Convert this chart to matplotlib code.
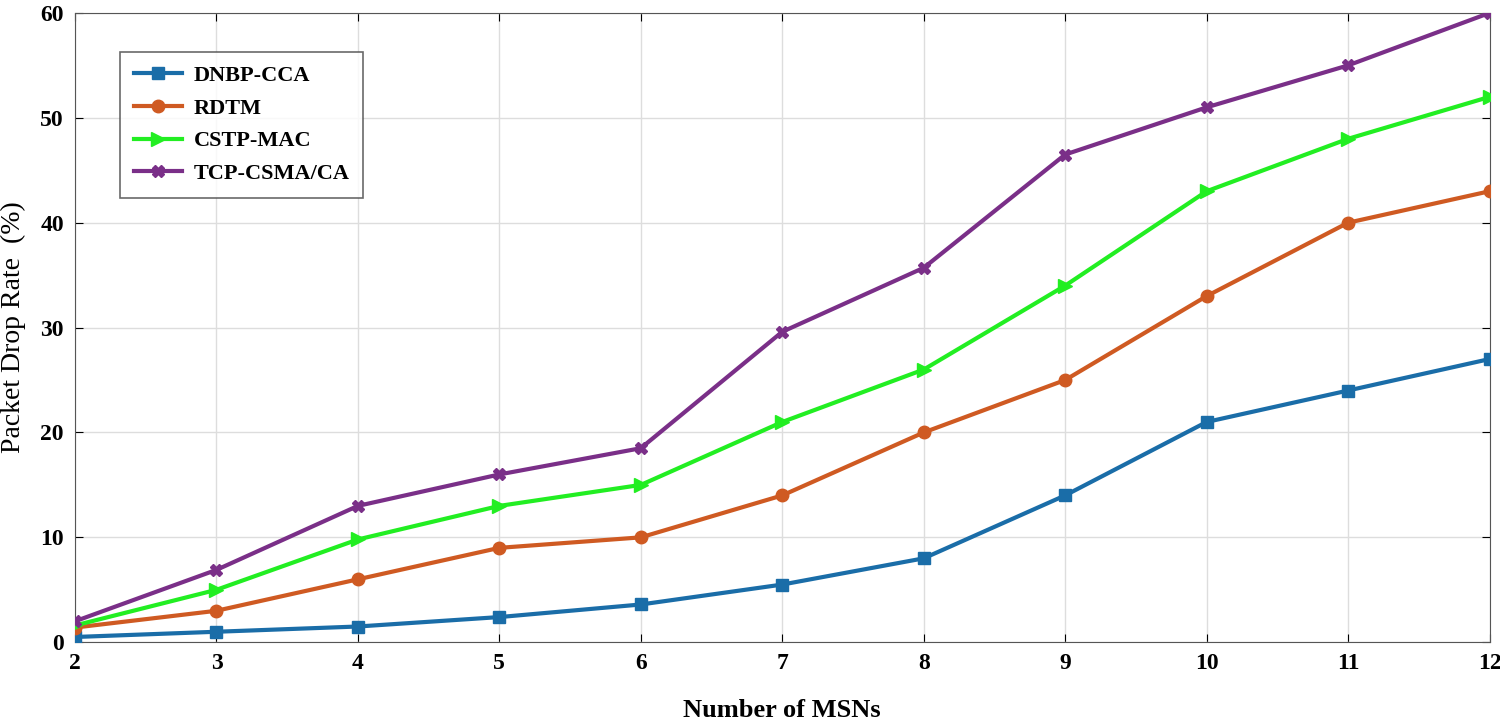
"""Packet drop rate vs number of MSNs."""
import matplotlib
matplotlib.use('Agg')
import matplotlib.pyplot as plt

plt.rcParams['font.family'] = ['Liberation Serif', 'DejaVu Serif']

msns = [2, 3, 4, 5, 6, 7, 8, 9, 10, 11, 12]
dnbp_cca = [0.5, 1.0, 1.5, 2.4, 3.6, 5.5, 8.0, 14.0, 21.0, 24.0, 27.0]
rdtm = [1.4, 3.0, 6.0, 9.0, 10.0, 14.0, 20.0, 25.0, 33.0, 40.0, 43.0]
cstp_mac = [1.6, 5.0, 9.8, 13.0, 15.0, 21.0, 26.0, 34.0, 43.0, 48.0, 52.0]
tcp_csma = [2.0, 6.9, 13.0, 16.0, 18.5, 29.6, 35.7, 46.5, 51.0, 55.0, 60.0]

fig = plt.figure(figsize=(15, 7.2), dpi=100)
ax = fig.add_axes([0.05, 0.108, 0.943, 0.874])

ax.plot(msns, dnbp_cca, '-s', color='#1A6DA8', lw=3, ms=8, label='DNBP-CCA', zorder=3)
ax.plot(msns, rdtm, '-o', color='#CF5A22', lw=3, ms=9, label='RDTM', zorder=3)
ax.plot(msns, cstp_mac, '->', color='#22EE22', lw=3, ms=10, label='CSTP-MAC', zorder=3)
ax.plot(msns, tcp_csma, '-X', color='#7A2F88', lw=3, ms=9, label='TCP-CSMA/CA', zorder=3)

ax.set_xlim(2, 12)
ax.set_ylim(0, 60)
ax.set_xticks(msns)
ax.set_yticks(range(0, 61, 10))
ax.grid(color='#dddddd', lw=1)
ax.tick_params(direction='in', length=6, top=True, right=True, labelsize=17, pad=8)
for lab in ax.get_xticklabels() + ax.get_yticklabels():
    lab.set_fontweight('bold')
for sp in ax.spines.values():
    sp.set_color('#555555')

ax.set_xlabel('Number of MSNs', fontsize=19, fontweight='bold', labelpad=18)
ax.set_ylabel('Packet Drop Rate  (%)', fontsize=20, labelpad=10)

leg = ax.legend(loc='upper left', bbox_to_anchor=(0.032, 0.938), borderaxespad=0,
                frameon=True, fancybox=False, edgecolor='#444444',
                handlelength=2.2, handletextpad=0.5, borderpad=0.6, labelspacing=0.55,
                prop={'weight': 'bold', 'size': 16})
leg.get_frame().set_linewidth(1.2)

fig.savefig('out.png', dpi=100)
